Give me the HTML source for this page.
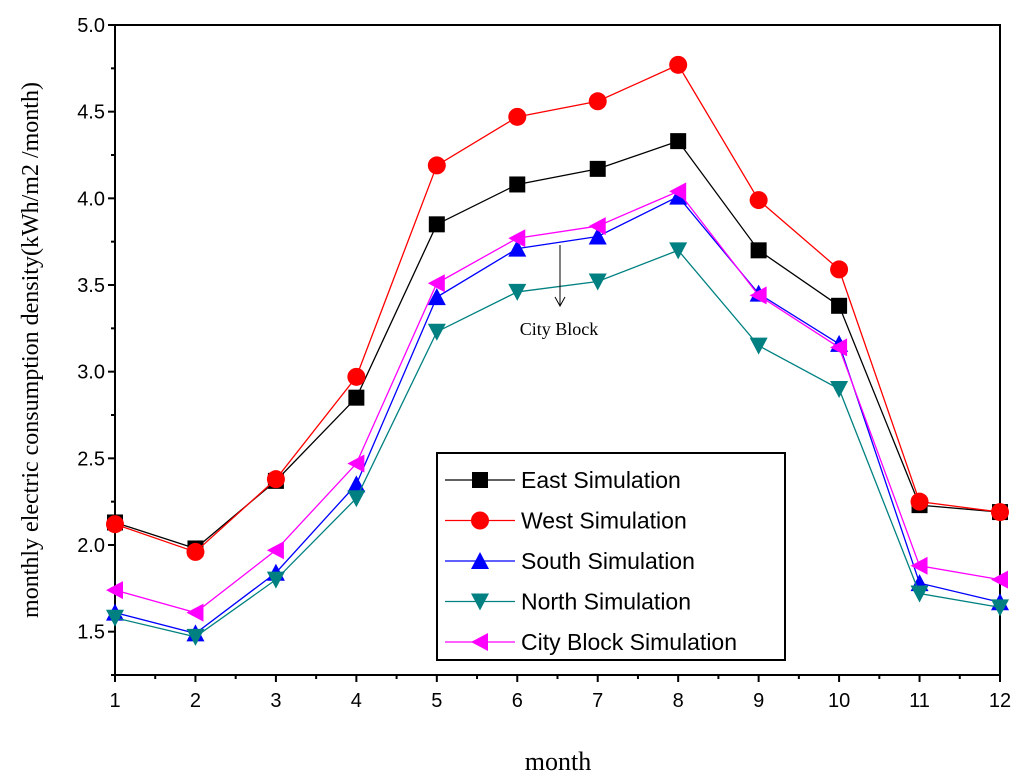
<!DOCTYPE html>
<html><head><meta charset="utf-8"><style>body{margin:0;background:#fff}svg{display:block}</style></head>
<body>
<svg id="c" width="1024" height="784" xmlns="http://www.w3.org/2000/svg"></svg>
<script>
const months=[1,2,3,4,5,6,7,8,9,10,11,12];
const yTicks=[1.5,2.0,2.5,3.0,3.5,4.0,4.5,5.0];
const east=[2.13,1.98,2.37,2.85,3.85,4.08,4.17,4.33,3.70,3.38,2.23,2.19];
const west=[2.12,1.96,2.38,2.97,4.19,4.47,4.56,4.77,3.99,3.59,2.25,2.19];
const south=[1.61,1.49,1.84,2.35,3.43,3.71,3.78,4.01,3.45,3.16,1.78,1.67];
const north=[1.58,1.47,1.80,2.27,3.23,3.46,3.52,3.70,3.15,2.90,1.72,1.64];
const city=[1.74,1.61,1.97,2.47,3.51,3.77,3.84,4.04,3.44,3.14,1.88,1.80];
const names=["East Simulation","West Simulation","South Simulation","North Simulation","City Block Simulation"];
const svg=document.getElementById('c');const NS="http://www.w3.org/2000/svg";
const L=115,R=1000,T=25,B=675,ymin=1.25,ymax=5.0;
const X=m=>L+(m-1)*(R-L)/11, Y=v=>B-(v-ymin)/(ymax-ymin)*(B-T);
function el(t,a,p){const e=document.createElementNS(NS,t);for(const k in a)e.setAttribute(k,a[k]);(p||svg).appendChild(e);return e;}
const F='"Liberation Serif",serif', FS='"Liberation Sans",sans-serif';
let fr=el('rect',{x:L,y:T,width:R-L,height:B-T,fill:'none',stroke:'#000','stroke-width':2});


months.forEach((m,i)=>{
 let t=el('line',{x1:X(m),x2:X(m),y1:B,y2:B+7,stroke:'#000','stroke-width':2});
 
 
 if(i<11){let mt=el('line',{x1:X(m+0.5),x2:X(m+0.5),y1:B,y2:B+4,stroke:'#000','stroke-width':2});
 
 }
 let tx=el('text',{x:X(m),y:B+32,'font-family':FS,'font-size':20,'text-anchor':'middle'});tx.textContent=m;
 
 
});
yTicks.forEach(v=>{
 let t=el('line',{x1:L-7,x2:L,y1:Y(v),y2:Y(v),stroke:'#000','stroke-width':2});
 
 
 let mt=el('line',{x1:L-4,x2:L,y1:Y(v-0.25),y2:Y(v-0.25),stroke:'#000','stroke-width':2});
 
 
 let tx=el('text',{x:L-10,y:Y(v)+7,'font-family':FS,'font-size':20,'text-anchor':'end'});tx.textContent=v.toFixed(1);
 
 
});
let xt=el('text',{x:558,y:770,'font-family':F,'font-size':26,'text-anchor':'middle'});xt.textContent='month';


let yt=el('text',{x:0,y:0,'font-family':F,'font-size':24,'text-anchor':'middle',transform:'translate(38,350) rotate(-90)'});yt.textContent='monthly electric consumption density(kWh/m2 /month)';


function marker(type,x,y,c,g){
 const s=8;
 if(type==='sq')return el('rect',{x:x-s,y:y-s,width:2*s,height:2*s,fill:c},g);
 if(type==='ci')return el('circle',{cx:x,cy:y,r:s+1,fill:c},g);
 if(type==='up')return el('polygon',{points:`${x},${y-s-1} ${x-s-1},${y+s} ${x+s+1},${y+s}`,fill:c},g);
 if(type==='dn')return el('polygon',{points:`${x},${y+s+1} ${x-s-1},${y-s} ${x+s+1},${y-s}`,fill:c},g);
 return el('polygon',{points:`${x-s-1},${y} ${x+s},${y-s-1} ${x+s},${y+s+1}`,fill:c},g);
}
const series=[[east,'#000','sq','east'],[west,'#ff0000','ci','west'],[south,'#0000ff','up','south'],[north,'#008080','dn','north'],[city,'#ff00ff','lt','city-block']];
series.forEach(([d,c,mk,n])=>{
 const g=el('g',{});
 
 
 el('polyline',{points:d.map((v,i)=>X(months[i])+','+Y(v)).join(' '),fill:'none',stroke:c,'stroke-width':1.3},g);
 d.forEach((v,i)=>{const p=marker(mk,X(months[i]),Y(v),c,g);
 
 });
});
const ag=el('g',{});


el('line',{x1:560,y1:245,x2:560,y2:306,stroke:'#000','stroke-width':1},ag);
el('polyline',{points:'555,297 560,306 565,297',fill:'none',stroke:'#000','stroke-width':1},ag);
let at=el('text',{x:559,y:335,'font-family':F,'font-size':18,'text-anchor':'middle'},ag);at.textContent='City Block';
const lg=el('g',{});


el('rect',{x:437,y:453,width:348,height:207,fill:'#fff',stroke:'#000','stroke-width':2},lg);
series.forEach(([d,c,mk,n],i)=>{
 const y=480+i*40.5;
 const eg=el('g',{},lg);
 
 
 el('line',{x1:445,x2:515,y1:y,y2:y,stroke:c,'stroke-width':1.3},eg);
 marker(mk,480,y,c,eg);
 let t=el('text',{x:521,y:y+8,'font-family':FS,'font-size':23},eg);t.textContent=names[i];
});
</script>
</body></html>
